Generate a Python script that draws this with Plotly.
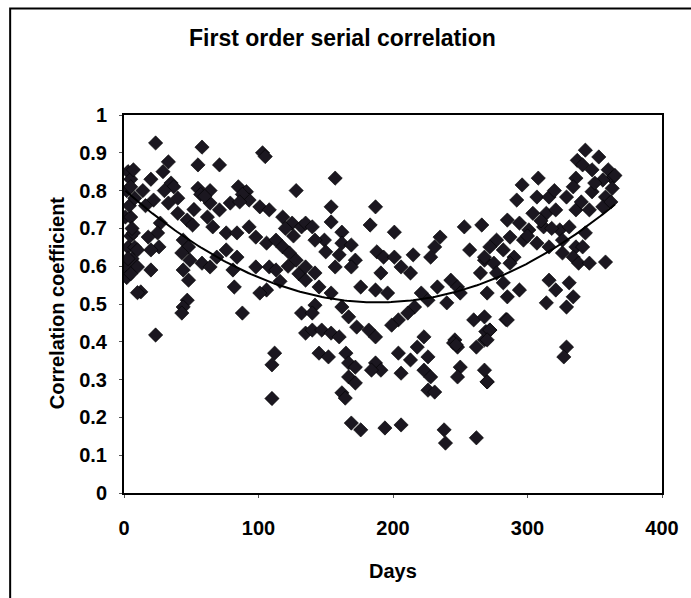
import numpy as np
import plotly.graph_objects as go

# ---- data: (day of year, first-order serial correlation) ----
obs_winter_spring = [
    (1, 0.73), (2, 0.80), (3, 0.85), (5, 0.83), (1, 0.60), (3, 0.65), (5, 0.68),
    (6, 0.62), (2, 0.57), (8, 0.65), (7, 0.855), (5, 0.81), (5, 0.73), (7, 0.688),
    (10, 0.643), (10, 0.598), (5, 0.58), (12.5, 0.532), (4, 0.76), (6, 0.70),
    (3, 0.62), (8, 0.78), (10, 0.53),
    (23.5, 0.926), (58, 0.915), (103, 0.90), (105, 0.89), (33, 0.876), (55, 0.868),
    (71, 0.868), (29, 0.85), (35, 0.82), (37, 0.81), (55, 0.806), (64, 0.80),
    (85, 0.81), (91, 0.797), (128, 0.80), (20, 0.83), (22, 0.775), (33, 0.767),
    (64, 0.767), (71, 0.749), (79, 0.767), (93, 0.775), (101, 0.757), (108, 0.749),
    (118, 0.73), (125, 0.714), (132, 0.704), (40, 0.74), (47, 0.722), (51, 0.709),
    (62, 0.73), (66, 0.704), (76, 0.688), (84, 0.688), (93, 0.704), (98, 0.677),
    (106, 0.661), (113, 0.669), (118, 0.651), (123, 0.635), (128, 0.616),
    (27, 0.714), (25, 0.688), (26, 0.651), (18, 0.677), (20, 0.643), (20, 0.59),
    (44, 0.669), (48, 0.651), (43, 0.635), (49, 0.616), (44, 0.59), (48, 0.563),
    (58, 0.608), (64, 0.598), (69, 0.624), (76, 0.643), (84, 0.624), (81, 0.59),
    (82, 0.545), (98, 0.598), (108, 0.598), (113, 0.59), (106, 0.537), (101, 0.529),
    (47, 0.51), (44, 0.492), (43, 0.476), (88, 0.476), (132, 0.476), (135, 0.423),
    (23.5, 0.418), (112, 0.37), (110, 0.339), (110, 0.25), (57, 0.79), (60, 0.785),
    (88, 0.79), (86, 0.77), (120, 0.70), (126, 0.68), (122, 0.60), (130, 0.58),
    (116, 0.56), (14, 0.80), (16, 0.76), (30, 0.80), (40, 0.78), (52, 0.75),
]
obs_summer = [
    (157, 0.833), (154, 0.757), (187, 0.757), (154, 0.717), (183, 0.709), (201, 0.69),
    (135, 0.714), (140, 0.704), (162, 0.69), (149, 0.669), (142, 0.669), (162, 0.661),
    (169, 0.656), (150, 0.638), (160, 0.63), (172, 0.616), (188, 0.638), (193, 0.624),
    (201, 0.624), (215, 0.63), (231, 0.651), (235, 0.677), (253, 0.704), (266, 0.709),
    (257, 0.643), (268, 0.616), (191, 0.582), (206, 0.598), (213, 0.582), (228, 0.624),
    (135, 0.598), (142, 0.582), (157, 0.598), (169, 0.598), (135, 0.563), (145, 0.545),
    (154, 0.529), (176, 0.545), (187, 0.537), (196, 0.529), (221, 0.529), (233, 0.545),
    (243, 0.563), (248, 0.545), (250, 0.529), (240, 0.503), (216, 0.492), (226, 0.51),
    (211, 0.476), (204, 0.458), (199, 0.444), (142, 0.497), (140, 0.476), (162, 0.492),
    (167, 0.466), (173, 0.439), (182, 0.431), (187, 0.413), (140, 0.431), (147, 0.431),
    (154, 0.423), (160, 0.413), (145, 0.37), (152, 0.36), (165, 0.37), (167, 0.344),
    (172, 0.333), (167, 0.307), (172, 0.291), (162, 0.265), (164.5, 0.251),
    (187, 0.344), (191, 0.325), (184, 0.325), (204, 0.37), (206, 0.317), (213, 0.352),
    (218, 0.386), (223, 0.413), (226, 0.36), (223, 0.325), (228, 0.307), (226, 0.272),
    (231, 0.267), (246, 0.405), (248, 0.386), (250, 0.333), (248, 0.307), (262, 0.386),
    (268, 0.405), (268, 0.325), (270, 0.294), (260, 0.458), (272, 0.431), (169, 0.185),
    (176, 0.167), (194, 0.172), (206, 0.18), (238, 0.167), (239, 0.132), (262, 0.146),
    (245, 0.397), (247, 0.392), (284, 0.459), (269, 0.427),
]
obs_autumn = [
    (343, 0.907), (353, 0.889), (337, 0.88), (341, 0.868), (348, 0.855), (360, 0.855),
    (363, 0.833), (356, 0.828), (336, 0.833), (308, 0.833), (296, 0.815), (334, 0.81),
    (348, 0.797), (358, 0.783), (363, 0.806), (292, 0.775), (307, 0.783), (316, 0.783),
    (329, 0.783), (356, 0.757), (346, 0.749), (336, 0.749), (304, 0.74), (314, 0.74),
    (321, 0.749), (285, 0.722), (294, 0.714), (301, 0.696), (312, 0.704), (324, 0.696),
    (331, 0.704), (343, 0.688), (287, 0.677), (277, 0.669), (297, 0.669), (307, 0.661),
    (316, 0.651), (326, 0.669), (336, 0.651), (272, 0.651), (282, 0.643), (290, 0.624),
    (268, 0.624), (275, 0.608), (287, 0.608), (265, 0.582), (277, 0.582), (326, 0.635),
    (334, 0.624), (338, 0.608), (346, 0.608), (358, 0.611), (341, 0.651), (282, 0.556),
    (294, 0.537), (285, 0.519), (270, 0.529), (316, 0.563), (331, 0.556), (321, 0.537),
    (314, 0.503), (334, 0.519), (329, 0.492), (285, 0.458), (268, 0.466), (272, 0.431),
    (270, 0.405), (329, 0.386), (327, 0.36), (270, 0.294), (365, 0.84), (362, 0.77),
    (300, 0.68), (310, 0.72), (318, 0.70), (350, 0.82), (340, 0.77), (320, 0.80),
]

x_ticks = [0, 100, 200, 300, 400]
y_ticks = [0, 0.1, 0.2, 0.3, 0.4, 0.5, 0.6, 0.7, 0.8, 0.9, 1]
y_tick_text = ["0", "0.1", "0.2", "0.3", "0.4", "0.5", "0.6", "0.7", "0.8", "0.9", "1"]

title_text = "First order serial correlation"
x_title = "Days"
y_title = "Correlation coefficient"

all_obs = obs_winter_spring + obs_summer + obs_autumn
days = [d for d, _ in all_obs]
values = [v for _, v in all_obs]

# second-order polynomial trendline fitted to the scatter (as in the spreadsheet)
coef = np.polyfit(np.array(days, dtype=float), np.array(values), 2)
trend_x = np.linspace(min(days), max(days), 200)
trend_y = np.polyval(coef, trend_x)

FONT = "Liberation Sans, Arial, sans-serif"
INK = "#1b1720"

fig = go.Figure()
fig.add_trace(go.Scatter(
    x=days, y=values, mode="markers",
    marker=dict(symbol="diamond", size=11, color=INK,
                line=dict(color="#000000", width=0.6)),
    showlegend=False, hoverinfo="x+y",
))
fig.add_trace(go.Scatter(
    x=trend_x, y=trend_y, mode="lines",
    line=dict(color="#000000", width=2),
    showlegend=False, hoverinfo="skip",
))

axis_common = dict(
    showgrid=False, zeroline=False,
    showline=True, linecolor="#000000", linewidth=2, mirror=True,
    ticks="outside", ticklen=3, tickwidth=1, tickcolor="#555555",
    tickfont=dict(family=FONT, size=20, color="#000000", weight="bold"),
)

fig.update_xaxes(range=[0, 400], tickvals=x_ticks, ticktext=[str(v) for v in x_ticks],
                 ticklabelstandoff=13, **axis_common)
fig.update_yaxes(range=[0, 1], tickvals=y_ticks, ticktext=y_tick_text,
                 ticklabelstandoff=8, **axis_common)

fig.update_layout(
    width=691, height=598,
    margin=dict(l=124, r=26, t=115, b=105),
    paper_bgcolor="#ffffff", plot_bgcolor="#ffffff",
    font=dict(family=FONT, color="#000000"),
    annotations=[
        dict(text="<b>" + title_text + "</b>", xref="paper", yref="paper",
             x=0.4067, y=1.204, xanchor="center", yanchor="middle", showarrow=False,
             font=dict(family=FONT, size=23, color="#000000")),
        dict(text="<b>" + x_title + "</b>", xref="paper", yref="paper",
             x=0.5, y=-0.206, xanchor="center", yanchor="middle", showarrow=False,
             font=dict(family=FONT, size=20, color="#000000")),
        dict(text="<b>" + y_title + "</b>", xref="paper", yref="paper",
             x=-0.1257, y=0.503, xanchor="center", yanchor="middle", showarrow=False,
             textangle=-90, font=dict(family=FONT, size=20, color="#000000")),
    ],
    shapes=[
        dict(type="rect", xref="paper", yref="paper",
             x0=-0.2116, x1=1.08, y0=-0.296, y1=1.2817,
             line=dict(color="#000000", width=2), fillcolor="rgba(0,0,0,0)", layer="below"),
    ],
)

fig.write_html("out.html")
